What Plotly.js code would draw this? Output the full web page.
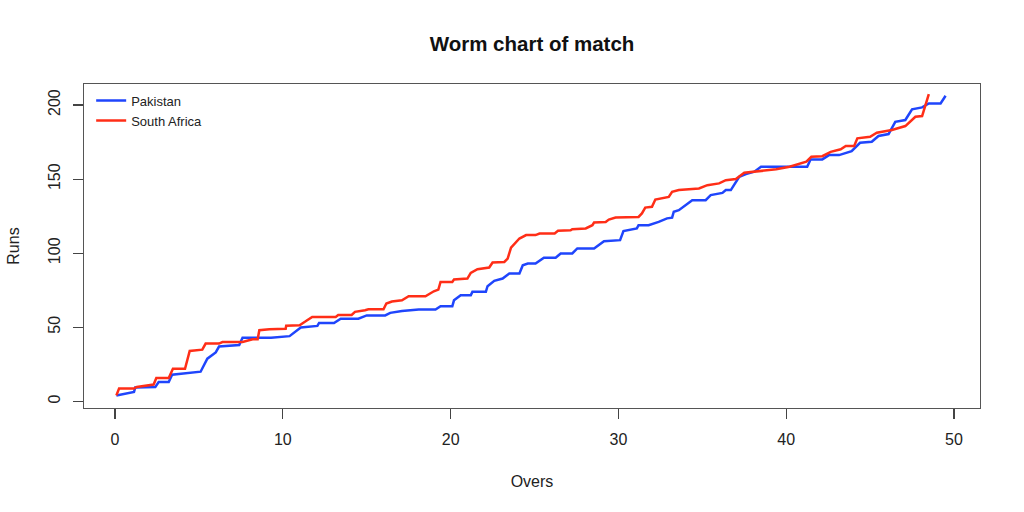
<!DOCTYPE html>
<html>
<head>
<meta charset="utf-8">
<script src="https://cdn.plot.ly/plotly-3.0.1.min.js"></script>
<style>html,body{margin:0;padding:0;background:#fff;}#chart{width:1024px;height:512px;}</style>
</head>
<body>
<div id="chart"></div>
<script>
const pakOvers = [0.08,1.13,1.2,2.4,2.6,3.2,3.4,4.2,5.1,5.5,6.0,6.2,7.4,7.6,9.3,10.4,11.07,12.06,12.16,13.05,13.45,14.5,15.0,16.1,16.4,17.1,18.1,19.1,19.4,20.1,20.2,20.6,21.2,21.3,22.1,22.2,22.6,23.1,23.5,24.1,24.3,24.6,25.06,25.56,26.26,26.56,27.25,27.55,28.55,29.14,30.1,30.3,31.1,31.2,31.8,32.4,32.9,33.2,33.3,33.6,34.4,35.2,35.5,36.2,36.4,36.7,37.2,37.6,38.1,38.5,41.25,41.45,42.15,42.55,43.15,43.9,44.4,45.1,45.5,46.1,46.5,47.1,47.5,48.1,48.5,49.2,49.5];
const pakRuns = [4,6.3,9.3,9.7,13,13,18,19,20,28.8,33,37,38,43,43,44,49.8,50.9,52.9,52.9,55.8,55.8,58,58,59.7,61,62,62,64.2,64.2,68.2,71.6,71.6,73.9,73.9,77.7,81.3,82.9,86.3,86.3,91.9,93,93,97,97,99.8,99.8,103.2,103.2,108.1,108.8,114.9,116.7,118.9,118.9,121.1,123.5,124,128,129,135.8,135.8,139.2,140.7,142.6,142.6,151.6,153.4,155,158.3,158.3,163.3,163.3,166.2,166.2,168.9,174.5,175.2,179.1,180.4,188.7,189.9,197.1,198.4,201.1,201.1,206.3];

const saOvers = [0.08,0.24,1.13,1.3,2.3,2.46,3.2,3.45,4.17,4.45,5.2,5.4,6.2,6.4,7.6,8.2,8.5,8.6,9.2,10.17,10.2,11.0,11.36,11.75,13.15,13.3,14.1,14.3,14.9,15.1,16.0,16.17,16.5,17.1,17.5,18.5,19.0,19.27,19.4,20.1,20.2,21.0,21.2,21.6,22.3,22.5,23.2,23.4,23.6,24.1,24.5,25.06,25.3,26.2,26.4,27.15,27.25,28.05,28.45,28.55,29.24,29.43,29.83,31.2,31.4,31.6,32.0,32.2,33.0,33.2,33.6,34.8,35.3,36.0,36.4,37.0,37.5,38.2,39.4,40.2,40.8,41.2,41.5,42.15,42.65,43.25,43.55,44.05,44.24,45.0,45.4,46.3,47.1,47.4,47.7,48.1,48.3,48.5];
const saRuns = [4,8.6,8.6,9.7,11.3,15.7,15.7,22,22,34,34.9,39,39,40,40,41.9,41.9,48,48.6,49,51,51.4,54,57,57,58.3,58.3,60.4,61.5,62.2,62.2,66,67.4,68.2,70.9,70.9,74.3,75.4,80.6,80.6,82.2,82.9,86.7,89.2,90.3,93.7,94.1,96.4,103.8,109.9,112.2,112.2,113.3,113.3,115.1,115.5,116.2,116.7,118.9,120.7,121.1,122.7,124.1,124.5,126.8,130.8,131.3,136.2,138.0,141.4,142.6,143.7,145.9,147.1,149.3,150,154.3,155,156.6,158.3,160.6,161.8,165.1,165.5,168.4,170.1,172.3,172.3,177.5,178.6,181.3,183.1,185.8,188.7,192.1,192.6,200,207.4];

const teamNames = ["Pakistan", "South Africa"];
const xTicks = [0,10,20,30,40,50];
const yTicks = [0,50,100,150,200];

const font = "Liberation Sans, Arial, sans-serif";
const traces = [
  {x: pakOvers, y: pakRuns, name: teamNames[0], type: "scatter", mode: "lines",
   line: {color: "#1f45fc", width: 2.5}},
  {x: saOvers, y: saRuns, name: teamNames[1], type: "scatter", mode: "lines",
   line: {color: "#ff2e17", width: 2.5}}
];
const axisCommon = {
  showline: true, mirror: true, linecolor: "#555", linewidth: 1.3,
  ticks: "outside", ticklen: 10, tickcolor: "#444", tickwidth: 1.2,
  showgrid: false, zeroline: false, tickfont: {family: font, size: 16, color: "#222"}
};
const layout = {
  width: 1024, height: 512,
  margin: {l: 84, r: 44, t: 84, b: 104},
  paper_bgcolor: "#fff", plot_bgcolor: "#fff",
  font: {family: font, color: "#111"},
  title: {text: "<b>Worm chart of match</b>", font: {family: font, size: 20.5, color: "#111"},
          x: 0.5, xref: "paper", y: 0.915, yref: "container", yanchor: "middle"},
  xaxis: Object.assign({}, axisCommon, {
    range: [-1.85, 51.55], tickvals: xTicks, ticktext: xTicks.map(String), ticklabelstandoff: 6,
    title: {text: "Overs", font: {family: font, size: 16, color: "#222"}, standoff: 29}
  }),
  yaxis: Object.assign({}, axisCommon, {
    range: [-4.5, 214.2], tickvals: yTicks, ticktext: yTicks.map(String), tickangle: -90, ticklabelstandoff: 6,
    title: {text: "Runs", font: {family: font, size: 16, color: "#222"}, standoff: 22}
  }),
  showlegend: true,
  legend: {x: 0.008, y: 0.995, xanchor: "left", yanchor: "top", bgcolor: "rgba(0,0,0,0)",
           font: {family: font, size: 13, color: "#222"}, tracegroupgap: 0, itemwidth: 30},
};
Plotly.newPlot("chart", traces, layout, {displayModeBar: false, staticPlot: true});
</script>
</body>
</html>
